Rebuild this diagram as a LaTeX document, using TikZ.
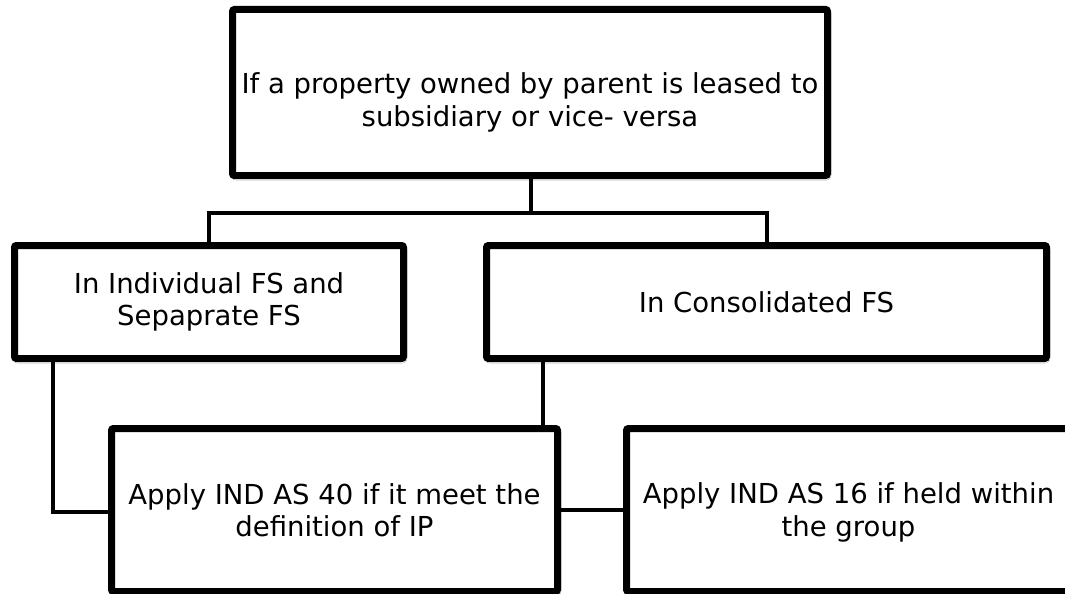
\documentclass[tikz,border=0pt]{standalone}
\usepackage{fontspec}
\setmainfont{DejaVu Sans}
\usetikzlibrary{shadows.blur}
\tikzset{
  box/.style={draw=black, line width=7pt, fill=white, rounded corners=2pt, align=center,
    inner sep=0pt, font=\fontsize{27.5}{32.5}\selectfont,
    blur shadow={shadow xshift=1pt, shadow yshift=-2pt, shadow blur radius=2.5pt, shadow opacity=35}},
  link/.style={draw=black, line width=4pt}
}
\begin{document}
\begin{tikzpicture}[x=1pt, y=-1pt]
\useasboundingbox[fill=white] (0,0) rectangle (1065,594);
\node[box, minimum width=595pt, minimum height=166pt] (top) at (530,92.5)
  {\rule{0pt}{41pt}If a property owned by parent is leased to\\subsidiary or vice- versa};
\node[box, minimum width=389pt, minimum height=113pt] (ind) at (209,302)
  {In Individual FS and\\Sepaprate FS};
\node[box, minimum width=560pt, minimum height=113pt] (con) at (766.5,302)
  {In Consolidated FS};
\node[box, minimum width=446pt, minimum height=163pt] (ap40) at (334.5,510)
  {Apply IND AS 40 if it meet the\\definition of IP};
\node[box, minimum width=444pt, minimum height=163pt] (ap16) at (848.5,510)
  {\rule{0pt}{26pt}Apply IND AS 16 if held within\\the group};
\coordinate (j) at (531,213);
\coordinate (c1) at (53,512);
\coordinate (c2) at (543,0);
\draw[link] (top.south -| j) -- (j);
\draw[link] (ind.north) |- (j) -| (con.north);
\draw[link] (ind.south -| c1) -- (c1) -- (c1 -| ap40.west);
\draw[link] (con.south -| c2) -- (ap40.north -| c2);
\draw[link] (ap40.east) -- (ap16.west);
\end{tikzpicture}
\end{document}
